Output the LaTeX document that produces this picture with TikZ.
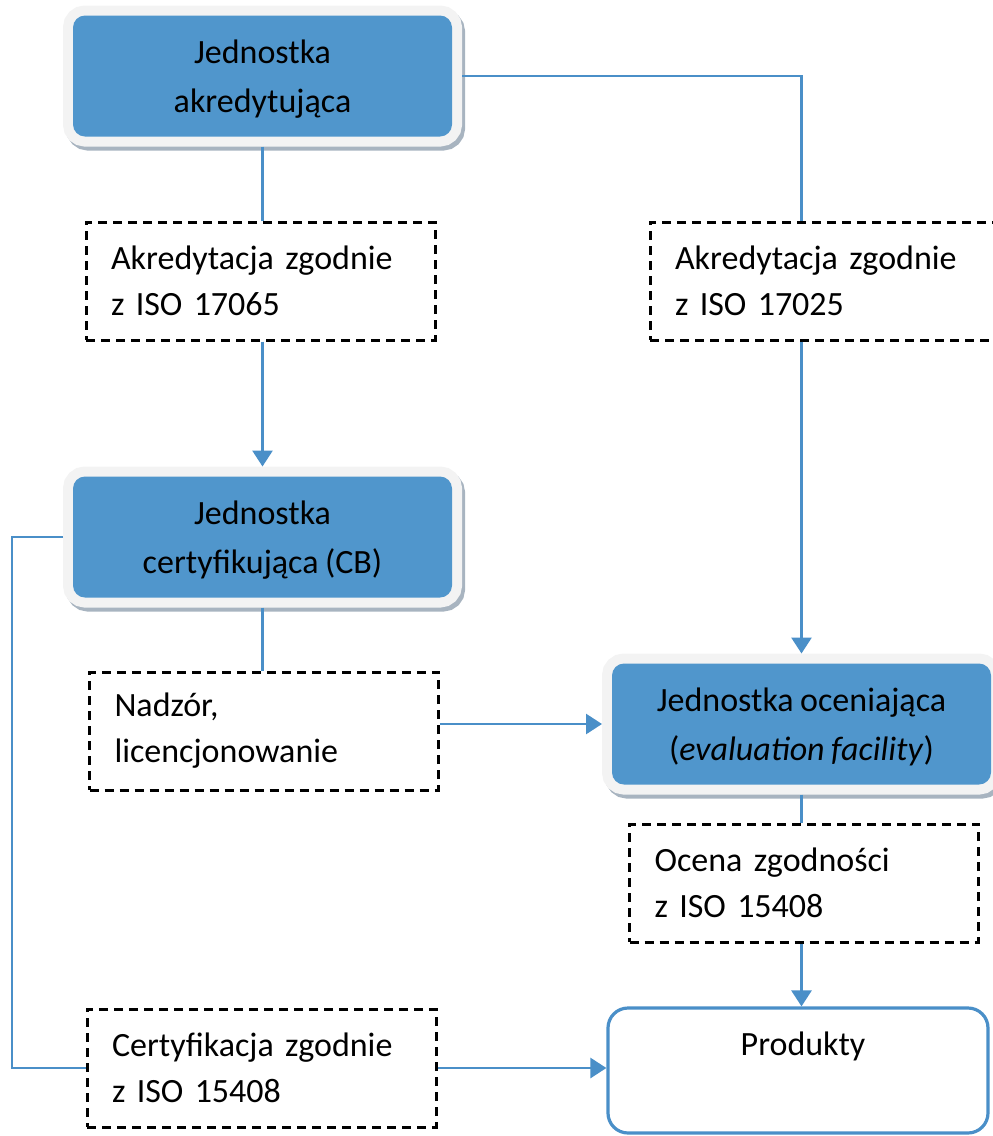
\documentclass[tikz,border=0pt]{standalone}
\usepackage{fontspec}
\setmainfont{Carlito}[WordSpace=0.85]
\usetikzlibrary{arrows.meta,positioning,backgrounds}

\definecolor{unitblue}{RGB}{80,150,204}
\definecolor{linkblue}{RGB}{74,143,200}
\definecolor{framegray}{RGB}{243,243,243}
\definecolor{shadowgray}{RGB}{168,180,192}

% pushes the text of the blue boxes a little down
\newcommand{\unitstrut}{\rule{0pt}{30pt}}

\begin{document}
\begin{tikzpicture}[
  x=1pt,y=-1pt,
  font=\fontsize{34}{46}\selectfont,
  >={Triangle[length=16pt,width=20pt]},
  unit/.style={rounded corners=12pt,fill=unitblue,inner sep=0pt,outer sep=10pt,
               minimum width=379pt,minimum height=121pt,align=center,
               font=\fontsize{34}{49}\selectfont,
               preaction={fill=shadowgray,draw=shadowgray,line width=20pt,
                          transform canvas={shift={(3pt,-4pt)}}},
               preaction={fill=framegray,draw=framegray,line width=20pt}},
  note/.style={draw,line width=3pt,dash pattern=on 9pt off 6pt,
               minimum width=349pt,minimum height=118pt,inner xsep=25pt,
               text width=299pt,align=left},
  goal/.style={draw=linkblue,line width=3.2pt,rounded corners=20pt,fill=white,
               minimum width=380pt,minimum height=125pt},
  link/.style={draw=linkblue,line width=2.8pt},
]
\clip (0,0) rectangle (993,1136);

% the three bodies
\node[unit] (acc)  at (262.5,76)  {\unitstrut Jednostka\\akredytująca};
\node[unit] (cb)   at (262.5,537) {\unitstrut Jednostka\\certyfikująca (CB)};
\node[unit] (eval) at (801.5,724) {\unitstrut Jednostka oceniająca\\(\textit{evaluation facility})};

% what links them
\node[note] (acc65)  at (260.5,281) {Akredytacja zgodnie\\z ISO 17065};
\node[note] (acc25)  at (824.5,281) {Akredytacja zgodnie\\z ISO 17025};
\node[note] (licnc)  at (264,731)   {Nadzór,\\licencjonowanie};
\node[note] (ocena)  at (804,883)   {Ocena zgodności\\z ISO 15408};
\node[note] (certif) at (261.5,1068) {Certyfikacja zgodnie\\z ISO 15408};

% the product box, text at its top
\node[goal] (prod) at (798,1070.5) {};
\node[anchor=base] (prodtxt) at ([xshift=5pt,yshift=-49pt]prod.north) {Produkty};

% left branch
\draw[link] (acc.south) -- (acc.south |- acc65.north);
\draw[link,->] (acc.south |- acc65.south) -- (cb.north);
\draw[link] (cb.south) -- (cb.south |- licnc.north);
\draw[link,->] (licnc.east |- eval.west) -- (eval.west);

% right branch
\draw[link] (acc.east) -| (eval.north |- acc25.north);
\draw[link,->] (eval.north |- acc25.south) -- (eval.north);
\draw[link] (eval.south) -- (eval.south |- ocena.north);
\draw[link,->] (eval.south |- ocena.south) -- (eval.south |- prod.north);

% certification rail down the left edge
\coordinate (rail) at (12,537);
\draw[link] (cb.west) -- (rail) |- (certif.west);
\draw[link,->] (certif.east) -- (prod.west |- certif.east);

\end{tikzpicture}
\end{document}
